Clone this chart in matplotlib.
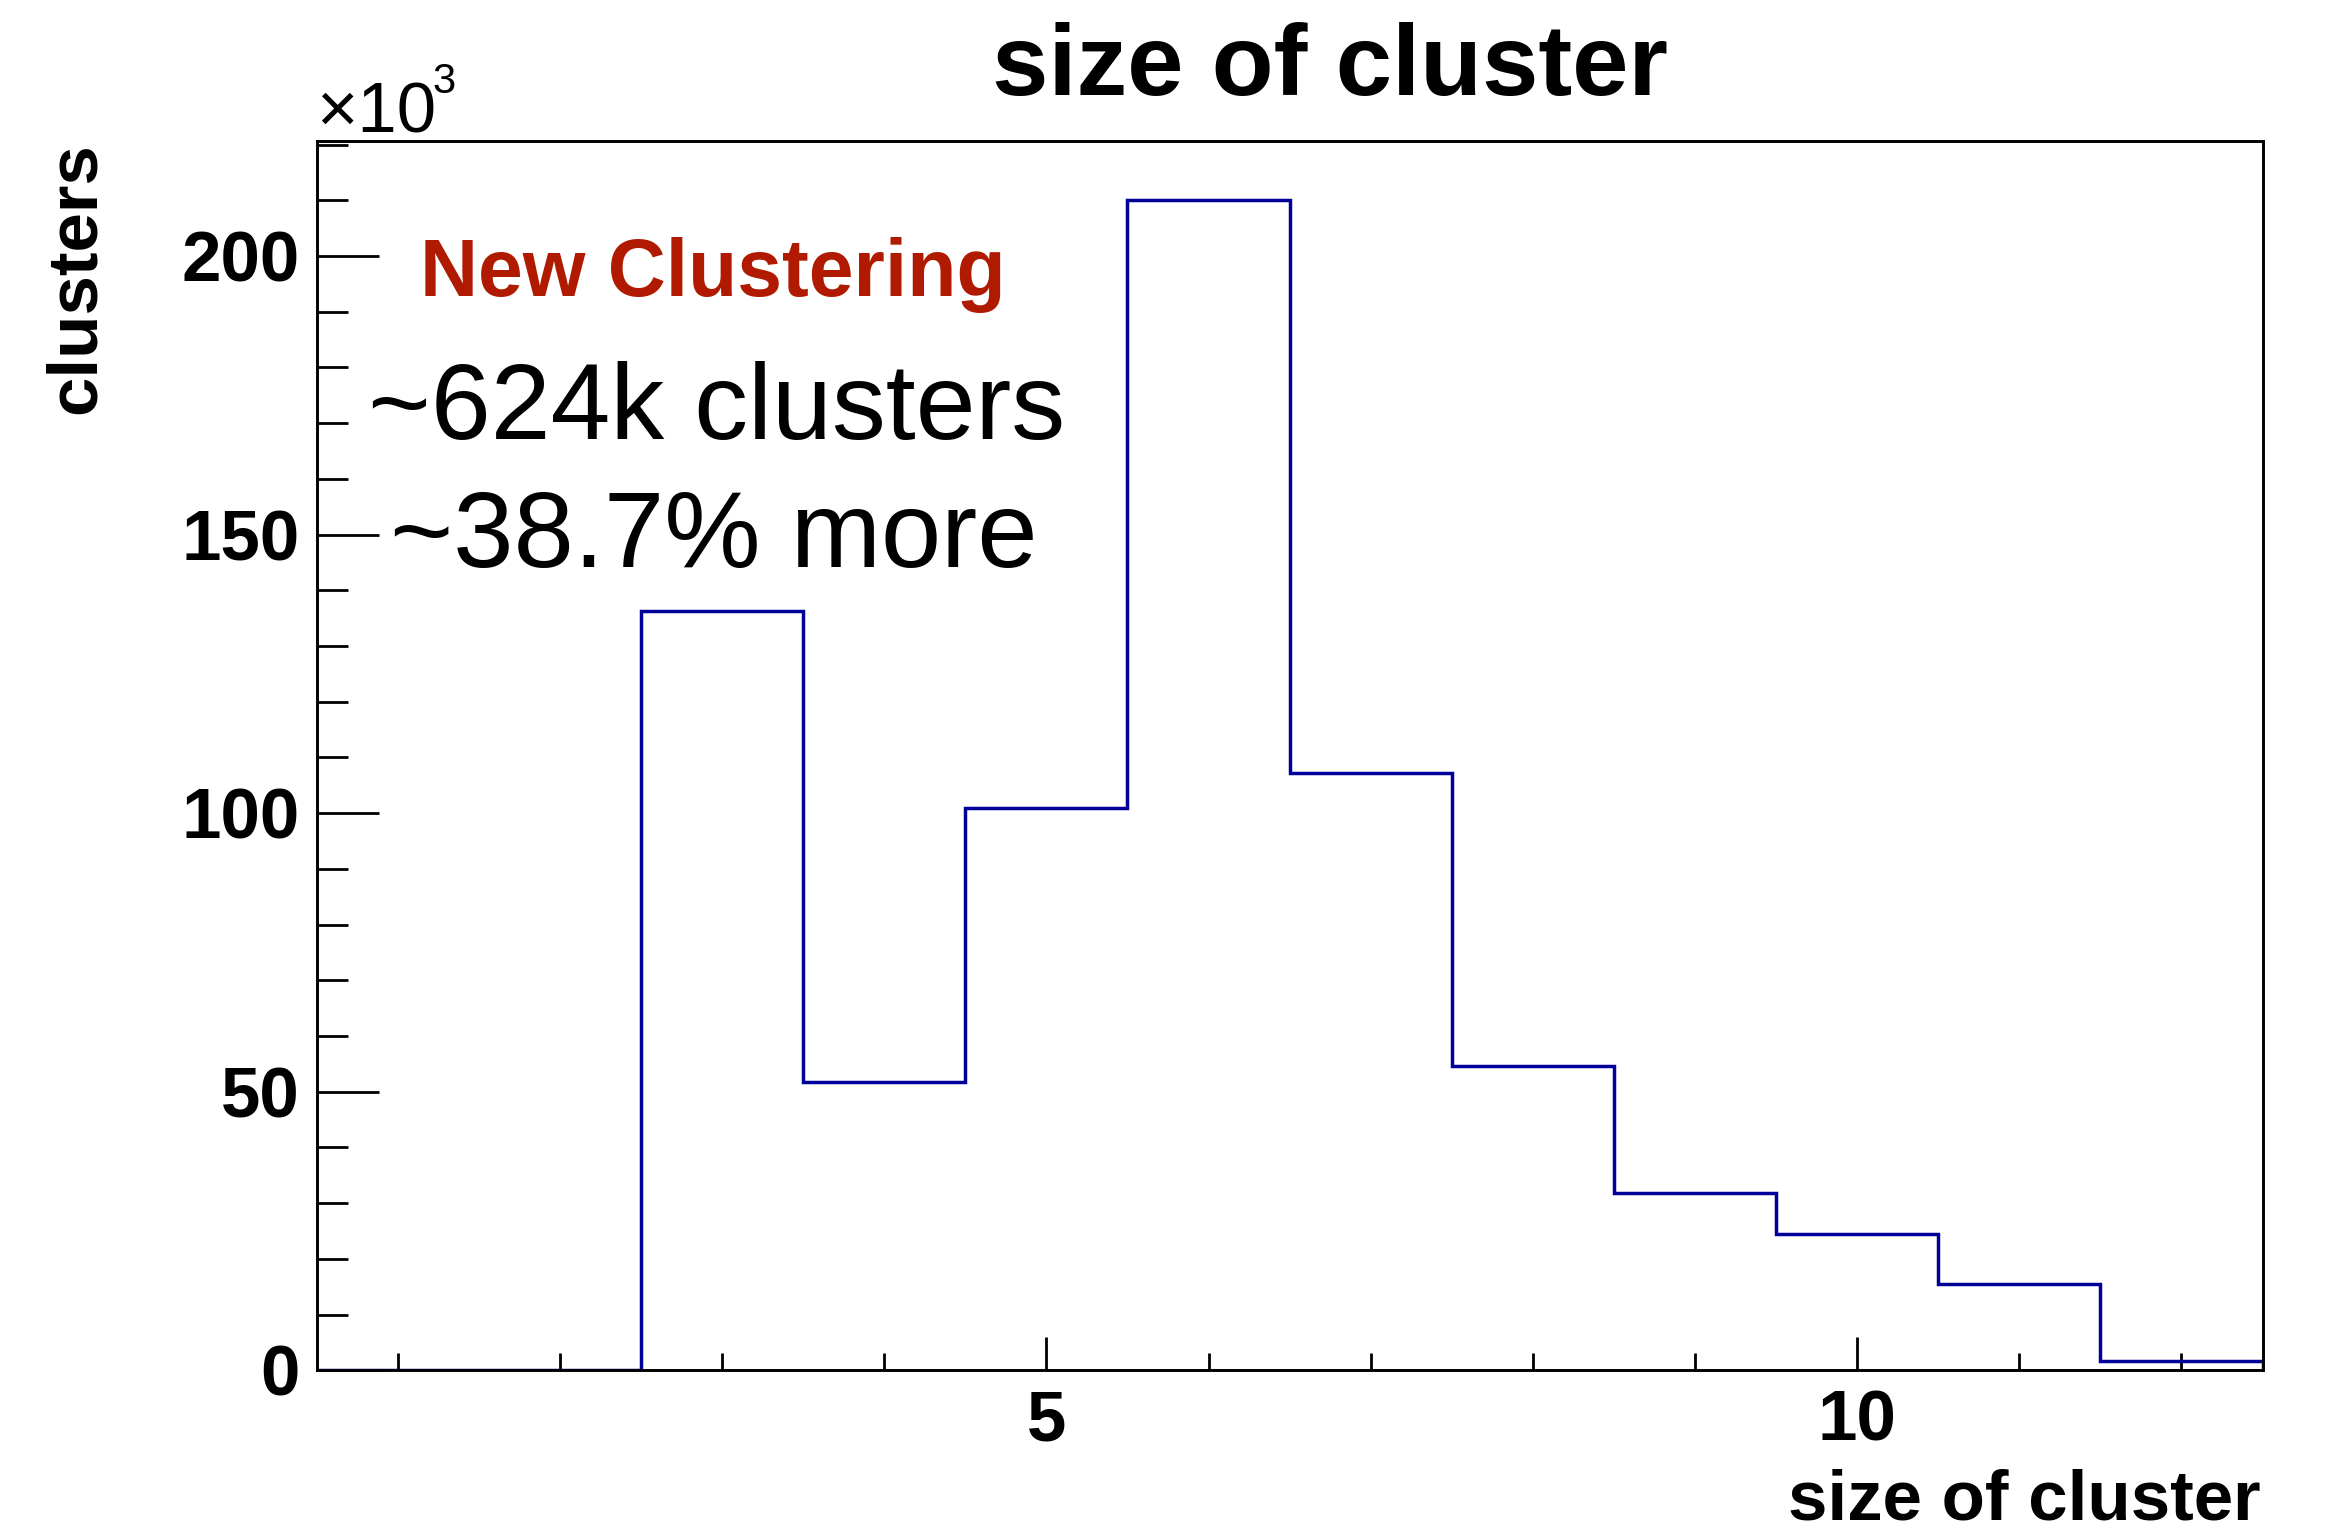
import matplotlib
matplotlib.use("Agg")
import matplotlib.pyplot as plt
from matplotlib.ticker import MultipleLocator, FixedLocator
import numpy as np

# Cluster-size histogram (counts in thousands), one bin per integer size
cluster_size = [1, 2, 3, 4, 5, 6, 7, 8, 9, 10, 11, 12]
clusters_k = [0.0, 0.0, 136.2, 51.8, 100.9, 210.1, 107.2, 54.6, 31.9, 24.4, 15.4, 1.6]

title = "size of cluster"
x_title = "size of cluster"
y_title = "clusters"
label_main = "New Clustering"
note_lines = ["~624k clusters", "~38.7% more"]

W, H = 2331, 1527
DPI = 100
FONT = "Liberation Sans"
plt.rcParams["font.family"] = [FONT, "DejaVu Sans"]

fig = plt.figure(figsize=(W / DPI, H / DPI), dpi=DPI, facecolor="white")

# frame in pixel units
left, right, top, bottom = 316.7, 2262.5, 141.2, 1370.3
ax = fig.add_axes([left / W, 1 - bottom / H, (right - left) / W, (bottom - top) / H])

edges = np.arange(len(cluster_size) + 1) + cluster_size[0] - 0.5
ax.stairs(clusters_k, edges, baseline=0, color="#000099", linewidth=2.5, zorder=2)

ax.set_xlim(edges[0], edges[-1])
ax.set_ylim(0, max(clusters_k) * 1.05)

# frame
for s in ax.spines.values():
    s.set_linewidth(2.1)
    s.set_color("black")
    s.set_zorder(3)

ax.xaxis.set_major_locator(FixedLocator([5, 10]))
ax.xaxis.set_minor_locator(MultipleLocator(1))
ax.yaxis.set_major_locator(MultipleLocator(50))
ax.yaxis.set_minor_locator(MultipleLocator(10))

ax.tick_params(axis="y", which="major", direction="in", length=44.6, width=2.0,
               pad=12, labelsize=51, right=False)
ax.tick_params(axis="y", which="minor", direction="in", length=22.3, width=2.0, right=False)
ax.tick_params(axis="x", which="major", direction="in", length=23.8, width=2.0,
               pad=13.5, labelsize=51, top=False)
ax.tick_params(axis="x", which="minor", direction="in", length=11.9, width=2.0, top=False)
for lab in ax.get_xticklabels() + ax.get_yticklabels():
    lab.set_fontweight("bold")
    lab.set_family(FONT)


def px(x, y):
    return x / W, 1 - y / H


# title
fig.text(*px(1330, 95), title, ha="center", va="baseline", fontsize=73,
         fontweight="bold", family=FONT)

# axis titles
fig.text(*px(2261, 1519), x_title, ha="right", va="baseline", fontsize=51,
         fontweight="bold", family=FONT)
fig.text(*px(95, 142), y_title, ha="right", va="baseline", rotation=90,
         rotation_mode="anchor", fontsize=51, fontweight="bold", family=FONT)

# exponent marker
fig.text(*px(316, 132.5), "\u00d710", ha="left", va="baseline", fontsize=51, family=FONT)
fig.text(*px(432, 93), "3", ha="left", va="baseline", fontsize=30, family=FONT)

# annotations
fig.text(*px(420, 296), label_main, ha="left", va="baseline", fontsize=58,
         fontweight="bold", color="#B01A00", family=FONT)
fig.text(*px(368, 439), note_lines[0], ha="left", va="baseline", fontsize=77.5, family=FONT)
fig.text(*px(390, 567), note_lines[1], ha="left", va="baseline", fontsize=78, family=FONT)

fig.savefig("out.png", dpi=DPI, facecolor="white")
